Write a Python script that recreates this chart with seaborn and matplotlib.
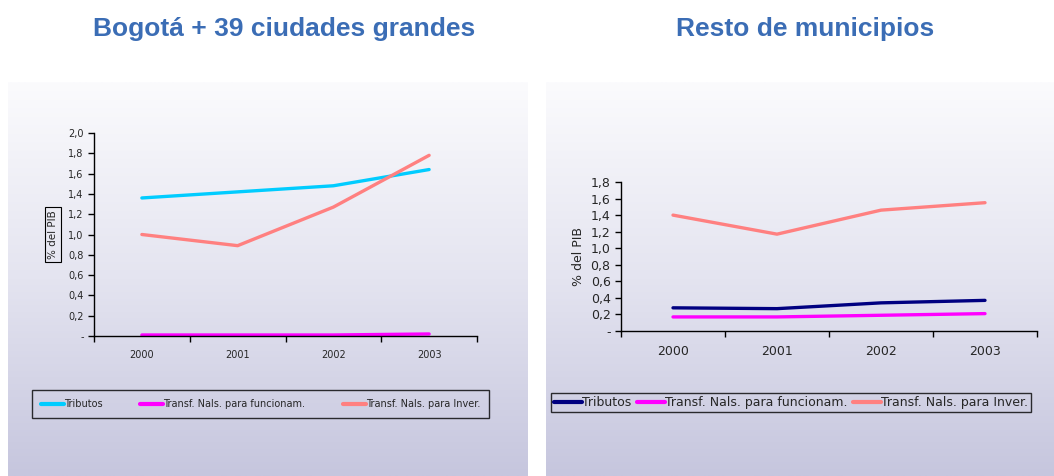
import numpy as np
import pandas as pd
import matplotlib
matplotlib.use("Agg")
import matplotlib.pyplot as plt
import seaborn as sns
from matplotlib.ticker import FixedLocator, FuncFormatter

sns.set_theme(style="white")
plt.rcParams['font.family'] = ['DejaVu Sans']

# data
years = ['2000', '2001', '2002', '2003']
series = ['Tributos', 'Transf. Nals. para funcionam.', 'Transf. Nals. para Inver.']

grandes_tributos = [1.36, 1.42, 1.48, 1.64]
grandes_funcionam = [0.01, 0.01, 0.01, 0.02]
grandes_inversion = [1.00, 0.89, 1.27, 1.78]

resto_tributos = [0.28, 0.27, 0.34, 0.37]
resto_funcionam = [0.17, 0.17, 0.19, 0.21]
resto_inversion = [1.40, 1.17, 1.46, 1.55]

pal_grandes = ['#00CCFF', '#FF00FF', '#FF8080']
pal_resto = ['#000080', '#FF00FF', '#FF8080']


def long_df(a, b, c):
    return pd.DataFrame({
        'year': years * 3,
        'serie': [series[0]] * 4 + [series[1]] * 4 + [series[2]] * 4,
        'valor': a + b + c,
    })


def fmt_tick(v, pos):
    if abs(v) < 1e-9:
        return '-'
    return f'{v:.1f}'.replace('.', ',')


W, H = 1054, 476
fig = plt.figure(figsize=(W / 100, H / 100), dpi=100)
fig.patch.set_facecolor('white')

# panel backgrounds (white -> lavender gradient)
grad = np.linspace(0, 1, 256).reshape(-1, 1)
cmap = matplotlib.colors.LinearSegmentedColormap.from_list('bg', ['#fbfbfd', '#e4e4f0', '#c6c6de'])
for x0, x1 in [(8, 528), (546, 1054)]:
    bg = fig.add_axes([x0 / W, 0, (x1 - x0) / W, 1 - 82 / H], zorder=0)
    bg.imshow(grad, aspect='auto', cmap=cmap, extent=[0, 1, 0, 1], origin='upper')
    bg.axis('off')


def panel(rect, df, pal, ymax, fs, boxed):
    ax = fig.add_axes([rect[0] / W, 1 - rect[3] / H, (rect[2] - rect[0]) / W, (rect[3] - rect[1]) / H], zorder=2)
    ax.patch.set_alpha(0)
    sns.lineplot(data=df, x='year', y='valor', hue='serie', palette=pal, linewidth=2.4,
                 sort=False, ax=ax, legend=False)
    ax.set_xlim(-0.5, 3.5)
    ax.set_ylim(0, ymax)
    ax.yaxis.set_major_locator(FixedLocator(np.arange(0, ymax + 0.01, 0.2)))
    ax.yaxis.set_major_formatter(FuncFormatter(fmt_tick))
    ax.xaxis.set_major_locator(FixedLocator([-0.5, 0.5, 1.5, 2.5, 3.5]))
    ax.xaxis.set_major_formatter(FuncFormatter(lambda v, p: ''))
    ax.xaxis.set_minor_locator(FixedLocator([0, 1, 2, 3]))
    ax.xaxis.set_minor_formatter(FuncFormatter(lambda v, p: years[int(round(v))]))
    ax.tick_params(axis='x', which='major', direction='out', length=4, width=1, color='black', bottom=True)
    ax.tick_params(axis='x', which='minor', length=0, labelsize=fs, pad=10, bottom=True)
    ax.tick_params(axis='y', direction='out', length=4, width=1, color='black', labelsize=fs, left=True)
    for s in ['top', 'right']:
        ax.spines[s].set_visible(False)
    for s in ['left', 'bottom']:
        ax.spines[s].set_color('black')
        ax.spines[s].set_linewidth(1)
    ax.set_xlabel('')
    if boxed:
        ax.set_ylabel('% del PIB', fontsize=fs + 0.5, labelpad=7,
                      bbox=dict(boxstyle='square,pad=0.3', fc='none', ec='black', lw=0.8))
    else:
        ax.set_ylabel('% del PIB', fontsize=fs, labelpad=4)
    return ax


ax1 = panel((94, 133, 477, 336), long_df(grandes_tributos, grandes_funcionam, grandes_inversion),
            pal_grandes, 2.0, 7, True)
ax2 = panel((621, 182, 1037, 331), long_df(resto_tributos, resto_funcionam, resto_inversion),
            pal_resto, 1.8, 9, False)

# legend, left panel: framed box stretched over 32..489 px
handles = [plt.Line2D([], [], color=c, lw=3) for c in pal_grandes]
leg1 = fig.legend(handles, series, loc='center', ncol=3, fontsize=7, frameon=True, fancybox=False,
                  mode='expand', handlelength=2.4, handletextpad=0.0, borderpad=0.9,
                  borderaxespad=0,
                  bbox_to_anchor=(32 / W, 1 - 420 / H, (489 - 32) / W, 32 / H))
# legend, right panel
handles = [plt.Line2D([], [], color=c, lw=3) for c in pal_resto]
leg2 = fig.legend(handles, series, loc='center left', ncol=3, fontsize=9, frameon=True, fancybox=False,
                  handlelength=2.2, handletextpad=0.0, columnspacing=0.5, borderpad=0.25,
                  borderaxespad=0, bbox_to_anchor=(551 / W, 1 - 402.5 / H))
for leg in (leg1, leg2):
    leg.get_frame().set_edgecolor('black')
    leg.get_frame().set_linewidth(1)
    leg.get_frame().set_facecolor('none')
    leg.set_zorder(3)

title_kw = dict(fontsize=19, fontweight='bold', color='#3B6DB5', family=['Liberation Sans', 'DejaVu Sans'],
                ha='center', va='center')
fig.text(284 / W, 1 - 29 / H, 'Bogotá + 39 ciudades grandes', **title_kw)
fig.text(805 / W, 1 - 29 / H, 'Resto de municipios', **title_kw)

fig.savefig('out.png', dpi=100)
